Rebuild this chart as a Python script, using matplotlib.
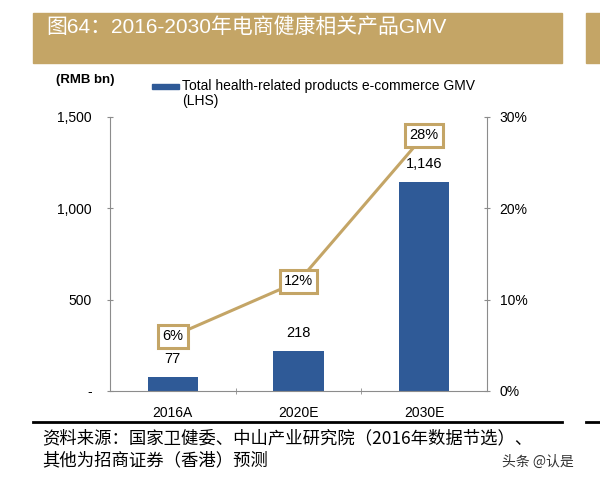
import matplotlib.pyplot as plt
from matplotlib.patches import Rectangle
from matplotlib.lines import Line2D

plt.rcParams['font.family'] = ['Liberation Sans', 'Noto Sans CJK SC', 'DejaVu Sans']

categories = ["2016A", "2020E", "2030E"]
gmv = [77, 218, 1146]
share = [6, 12, 28]
gmv_labels = ["77", "218", "1,146"]
left_ticks = [0, 500, 1000, 1500]
left_ticklabels = ["-", "500", "1,000", "1,500"]
right_ticks = [0, 10, 20, 30]
right_ticklabels = ["0%", "10%", "20%", "30%"]

title = "图64：2016-2030年电商健康相关产品GMV"
unit = "(RMB bn)"
legend_text = "Total health-related products e-commerce GMV\n(LHS)"
source_lines = ["资料来源：国家卫健委、中山产业研究院（2016年数据节选）、",
                "其他为招商证券（香港）预测"]
watermark = "头条 @认是"

bar_color = "#2F5A97"
gold = "#C4A566"
spine_grey = "#8C8C8C"

fig = plt.figure(figsize=(6, 4.8), dpi=100)
W, H = 600, 480


def fx(px):
    return px / W


def fy(py):
    return 1 - py / H


# title banner
fig.patches.append(Rectangle((fx(33), fy(63)), fx(529), (63 - 13) / H,
                             transform=fig.transFigure, color=gold, zorder=0))
fig.patches.append(Rectangle((fx(586), fy(63)), fx(20), (63 - 13) / H,
                             transform=fig.transFigure, color=gold, zorder=0))
fig.text(fx(46), fy(27), title, color="white", fontsize=15, va="center", ha="left",
         family=['Liberation Sans', 'Noto Sans CJK SC'])

ax = fig.add_axes([fx(110), fy(391), fx(487 - 110), (391 - 117) / H])
x = range(len(categories))
ax.bar(x, gmv, width=0.4, color=bar_color, zorder=2)
for xi, v, lab in zip(x, gmv, gmv_labels):
    ax.annotate(lab, (xi, v), xytext=(0, 8), textcoords="offset points",
                ha="center", va="bottom", fontsize=10.5)

ax.set_xlim(-0.5, 2.5)
ax.set_ylim(0, 1500)
ax.set_yticks(left_ticks)
ax.set_yticklabels(left_ticklabels, fontsize=10)
ax.set_xticks(list(x))
ax.set_xticklabels(categories, fontsize=10)
ax.set_xticks([0.5, 1.5], minor=True)
ax.tick_params(axis="x", which="major", length=0, pad=11)
ax.tick_params(axis="x", which="minor", length=4, color=spine_grey, direction="inout")
ax.tick_params(axis="y", length=4, color=spine_grey, direction="inout", pad=11)
for s in ["top", "right"]:
    ax.spines[s].set_visible(False)
for s in ["left", "bottom"]:
    ax.spines[s].set_color(spine_grey)

ax2 = ax.twinx()
ax2.plot(list(x), share, color=gold, lw=2.2, zorder=3)
ax2.set_ylim(0, 30)
ax2.set_yticks(right_ticks)
ax2.set_yticklabels(right_ticklabels, fontsize=10)
ax2.tick_params(axis="y", length=4, color=spine_grey, direction="inout", pad=7)
for s in ["top", "left", "bottom"]:
    ax2.spines[s].set_visible(False)
ax2.spines["right"].set_color(spine_grey)
for xi, v in zip(x, share):
    ax2.text(xi, v, f"{v}%", ha="center", va="center", fontsize=10.5, zorder=4,
             bbox=dict(boxstyle="square,pad=0.3", fc="white", ec=gold, lw=2.2))

# unit and legend
fig.text(fx(56), fy(80), unit, fontsize=9.5, fontweight="bold", va="center")
fig.patches.append(Rectangle((fx(152), fy(89)), fx(27), 5 / H,
                             transform=fig.transFigure, color=bar_color))
fig.text(fx(182), fy(79), legend_text, fontsize=10, va="top", linespacing=1.05)

# footer
fig.lines.append(Line2D([fx(33), fx(562)], [fy(422), fy(422)], transform=fig.transFigure,
                        color="black", lw=2))
fig.lines.append(Line2D([fx(586), fx(600)], [fy(422), fy(422)], transform=fig.transFigure,
                        color="black", lw=2))
for i, line in enumerate(source_lines):
    fig.text(fx(42), fy(438 + 22 * i), line, fontsize=12.5, style="italic", va="center",
             family=['Noto Sans CJK SC', 'Liberation Sans'])
fig.text(fx(502), fy(462), watermark, fontsize=10, color="#333333", va="center",
         family=['Noto Sans CJK SC', 'DejaVu Sans'])

fig.savefig("out.png", dpi=100)
